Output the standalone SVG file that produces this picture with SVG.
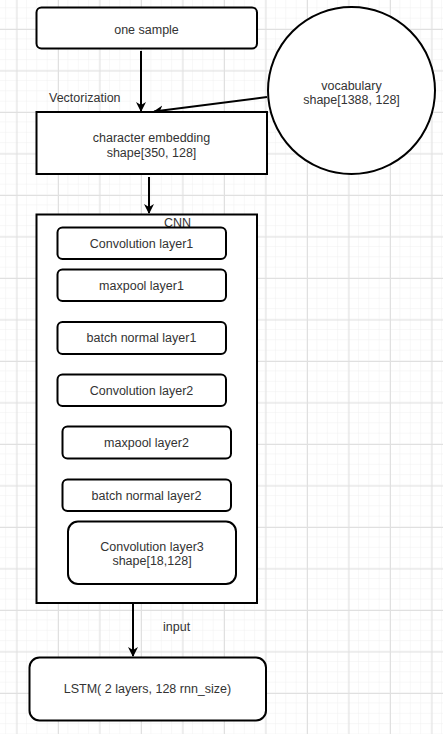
<svg xmlns="http://www.w3.org/2000/svg" width="443" height="734" viewBox="0 0 443 734">
<style>
.n{fill:#fff;stroke:#000;stroke-width:2}
.t{font-family:"Liberation Sans",Arial,sans-serif;font-size:12.5px;fill:#333;text-anchor:middle}
.l{font-family:"Liberation Sans",Arial,sans-serif;font-size:12.5px;fill:#333}
.c{fill:none;stroke:#000;stroke-width:2}
</style>
<defs>
<pattern id="minor" x="16.5" y="-12.5" width="10.375" height="10.375" patternUnits="userSpaceOnUse">
<path d="M10.375 0V10.375M0 10.375H10.375" fill="none" stroke="#f0f0f0" stroke-width="1"/>
</pattern>
<pattern id="major" x="16.5" y="-12.5" width="41.5" height="41.5" patternUnits="userSpaceOnUse">
<path d="M0.5 0V41.5M0 0.5H41.5" fill="none" stroke="#e0e0e0" stroke-width="1"/>
</pattern>
<marker id="arr" viewBox="0 0 10 10" refX="9" refY="5" markerWidth="10" markerHeight="10" markerUnits="userSpaceOnUse" orient="auto">
<path d="M0,0 L10,5 L0,10 L3,5 Z" fill="#000"/>
</marker>
</defs>
<rect width="443" height="734" fill="#fff"/>
<rect width="443" height="734" fill="url(#minor)"/>
<rect width="443" height="734" fill="url(#major)"/>

<g id="connectors">
<line class="c" x1="141" y1="51" x2="141" y2="111" marker-end="url(#arr)"/>
<line class="c" x1="267" y1="97" x2="154" y2="111.5" marker-end="url(#arr)"/>
<line class="c" x1="149" y1="177" x2="149" y2="213" marker-end="url(#arr)"/>
<line class="c" x1="133" y1="603" x2="133" y2="656" marker-end="url(#arr)"/>
<text class="l" x="49" y="101.5">Vectorization</text>
<text class="l" x="163" y="630.5">input</text>
</g>

<g id="one-sample">
<rect class="n" x="36.5" y="7.5" width="220.5" height="41" rx="5"/>
<text class="t" x="146.5" y="33.5">one sample</text>
</g>

<g id="vocabulary">
<circle class="n" cx="351.5" cy="90.5" r="83.5"/>
<text class="t" x="351.5" y="89.5">vocabulary</text>
<text class="t" x="351.5" y="103.5">shape[1388, 128]</text>
</g>

<g id="character-embedding">
<rect class="n" x="36.5" y="112" width="230.5" height="62"/>
<text class="t" x="151.5" y="141.5">character embedding</text>
<text class="t" x="151.5" y="156.5">shape[350, 128]</text>
</g>

<g id="cnn">
<rect class="n" x="36.5" y="214.5" width="220.5" height="388.5"/>
<text class="l" x="164" y="227">CNN</text>
</g>

<g id="conv1">
<rect class="n" x="57.5" y="227.5" width="168.5" height="31.5" rx="5"/>
<text class="t" x="141.5" y="247.5">Convolution layer1</text>
</g>
<g id="maxpool1">
<rect class="n" x="57.5" y="269.5" width="168.5" height="31.5" rx="5"/>
<text class="t" x="141.5" y="290">maxpool layer1</text>
</g>
<g id="batchnorm1">
<rect class="n" x="57.5" y="322" width="168.5" height="32" rx="5"/>
<text class="t" x="141.5" y="341.5">batch normal layer1</text>
</g>
<g id="conv2">
<rect class="n" x="57.5" y="374.5" width="168.5" height="31.5" rx="5"/>
<text class="t" x="141.5" y="394.5">Convolution layer2</text>
</g>
<g id="maxpool2">
<rect class="n" x="62.5" y="426.5" width="168.5" height="32" rx="5"/>
<text class="t" x="146.5" y="446.5">maxpool layer2</text>
</g>
<g id="batchnorm2">
<rect class="n" x="62.5" y="479.5" width="168.5" height="31.5" rx="5"/>
<text class="t" x="146.5" y="500">batch normal layer2</text>
</g>
<g id="conv3">
<rect class="n" x="68" y="521.5" width="168" height="62.5" rx="10"/>
<text class="t" x="152" y="551">Convolution layer3</text>
<text class="t" x="152" y="565">shape[18,128]</text>
</g>

<g id="lstm">
<rect class="n" x="29.5" y="657.5" width="236.5" height="63" rx="10"/>
<text class="t" x="147.5" y="692.5">LSTM( 2 layers, 128 rnn_size)</text>
</g>
</svg>
